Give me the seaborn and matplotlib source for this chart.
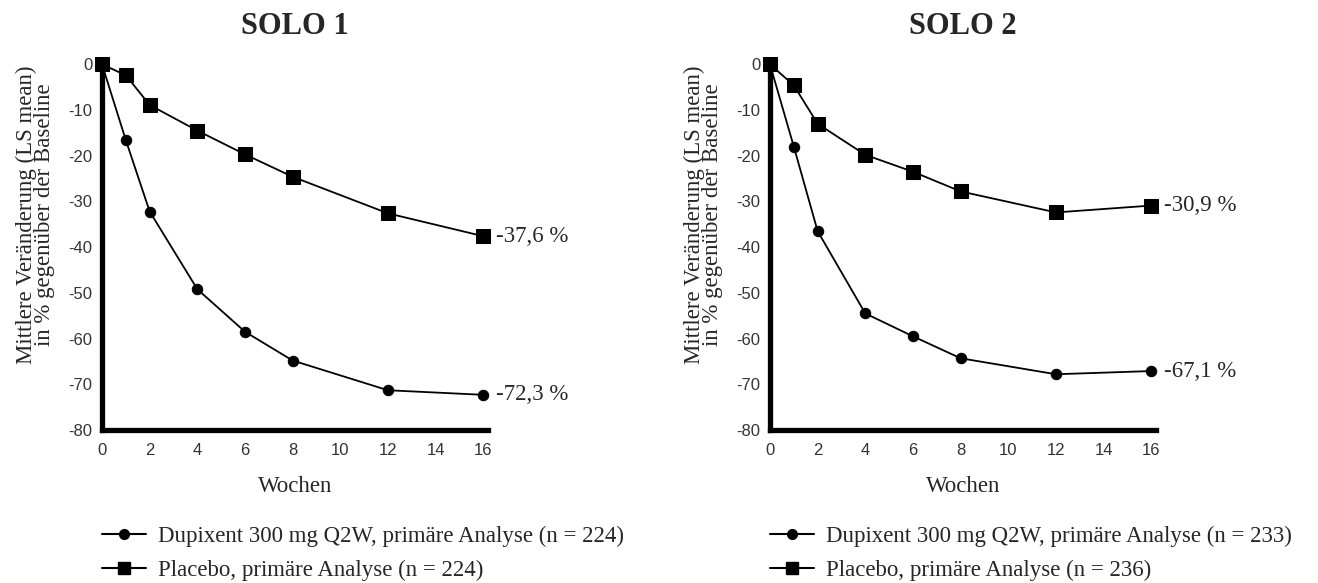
import matplotlib
matplotlib.use("Agg")
import matplotlib.pyplot as plt
import seaborn as sns
from matplotlib.lines import Line2D

# Woche der Messung
weeks = [0, 1, 2, 4, 6, 8, 12, 16]

# SOLO 1
solo1_dupi = [0, -16.6, -32.2, -49.2, -58.5, -64.8, -71.3, -72.3]
solo1_plac = [0, -2.4, -8.9, -14.5, -19.7, -24.6, -32.6, -37.6]
solo1_labels = ["-72,3 %", "-37,6 %"]
solo1_n = [224, 224]

# SOLO 2
solo2_dupi = [0, -18.0, -36.5, -54.5, -59.5, -64.3, -67.8, -67.1]
solo2_plac = [0, -4.6, -13.0, -19.8, -23.5, -27.8, -32.4, -30.9]
solo2_labels = ["-67,1 %", "-30,9 %"]
solo2_n = [233, 236]

titles = ["SOLO 1", "SOLO 2"]
yticks = [0, -10, -20, -30, -40, -50, -60, -70, -80]
xticks = [0, 2, 4, 6, 8, 10, 12, 14, 16]

sns.set_style("white")
serif = ["Liberation Serif", "DejaVu Serif"]
sans = ["Liberation Sans", "DejaVu Sans"]

fig = plt.figure(figsize=(13.18, 5.83), dpi=100)
axes = [fig.add_axes([0.0774, 0.2624, 0.2929, 0.6312]),
        fig.add_axes([0.5842, 0.2624, 0.2929, 0.6312])]

panels = [(solo1_dupi, solo1_plac, solo1_labels, solo1_n),
          (solo2_dupi, solo2_plac, solo2_labels, solo2_n)]

for ax, title, (dupi, plac, labels, n) in zip(axes, titles, panels):
    sns.lineplot(x=weeks, y=dupi, marker="o", markersize=7.5, color="black",
                 linewidth=1.3, markeredgecolor="black", ax=ax, clip_on=False)
    sns.lineplot(x=weeks, y=plac, marker="s", markersize=10, color="black",
                 linewidth=1.3, markeredgecolor="black", ax=ax, clip_on=False)
    ax.text(weeks[-1] + 0.55, dupi[-1], labels[0], family=serif, fontsize=16.5,
            va="center", ha="left")
    ax.text(weeks[-1] + 0.55, plac[-1], labels[1], family=serif, fontsize=16.5,
            va="center", ha="left")

    ax.set_xlim(0, 16.2)
    ax.set_ylim(-80, 0.5)
    ax.set_xticks(xticks)
    ax.set_yticks(yticks)
    ax.set_xticklabels([str(t) for t in xticks], family=sans, fontsize=12, color="#333333")
    ax.set_yticklabels([str(t) for t in yticks], family=sans, fontsize=12, color="#333333")
    ax.tick_params(direction="in", length=5, width=3, color="black", pad=7)
    ax.tick_params(axis="x", pad=9)
    for side in ["top", "right"]:
        ax.spines[side].set_visible(False)
    for side in ["left", "bottom"]:
        ax.spines[side].set_linewidth(3.8)
        ax.spines[side].set_color("black")

    ax.set_xlabel("Wochen", family=serif, fontsize=16.5, labelpad=13)
    ax.set_ylabel("Mittlere Veränderung (LS mean)\nin % gegenüber der Baseline",
                  family=serif, fontsize=16.5, linespacing=0.8)
    ax.yaxis.set_label_coords(-0.122, 0.584)
    ax.set_title(title, family=serif, fontsize=22, fontweight="bold", pad=20)

    handles = [Line2D([], [], color="black", marker="o", markersize=7, linewidth=1.5),
               Line2D([], [], color="black", marker="s", markersize=8, linewidth=1.5)]
    names = [f"Dupixent 300 mg Q2W, primäre Analyse (n = {n[0]})",
             f"Placebo, primäre Analyse (n = {n[1]})"]
    ax.legend(handles, names, loc="upper left", bbox_to_anchor=(0.0, -0.26),
              frameon=False, prop={"family": serif, "size": 16.5},
              handlelength=1.9, handletextpad=0.55, labelspacing=0.55,
              borderaxespad=0, borderpad=0)

fig.savefig("out.png", dpi=100)
